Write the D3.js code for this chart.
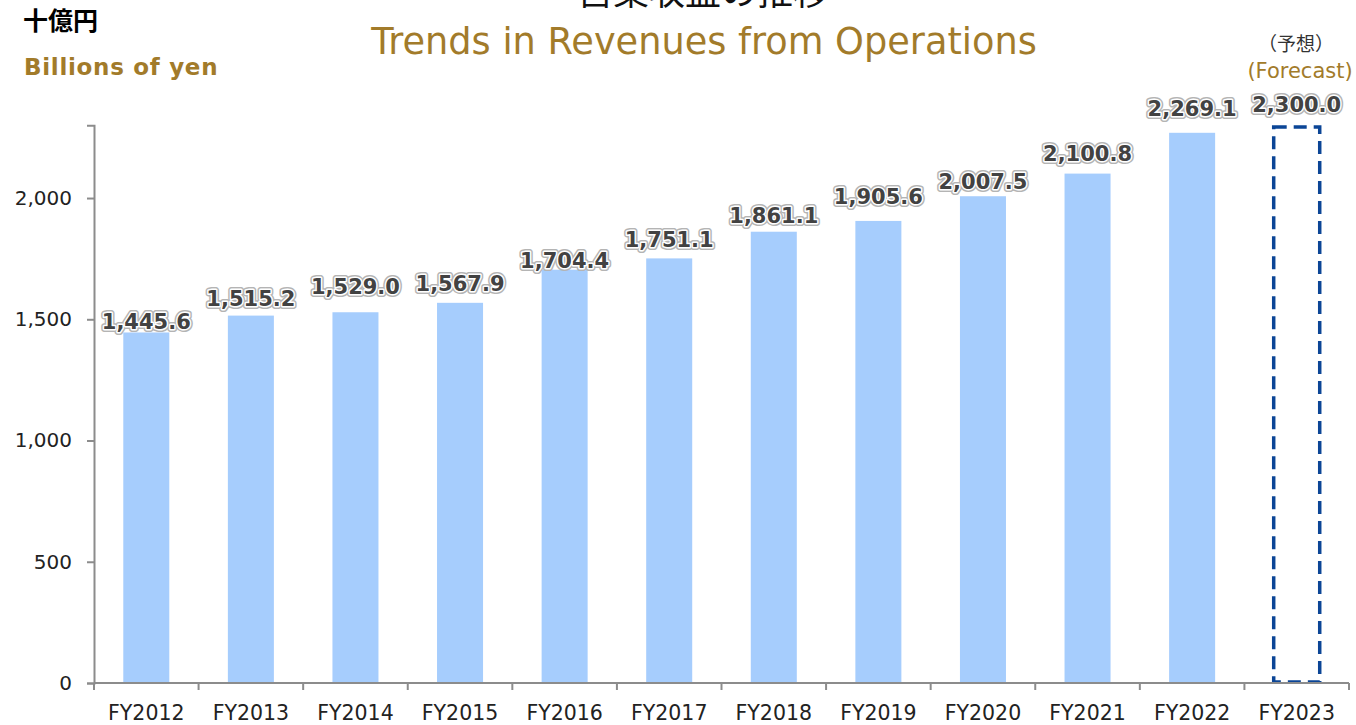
<!DOCTYPE html>
<html>
<head>
<meta charset="utf-8">
<script src="https://cdn.jsdelivr.net/npm/d3@7"></script>
<style>
  body { margin: 0; background: #fff; }
  svg { display: block; font-family: "DejaVu Sans", Verdana, sans-serif; }
</style>
</head>
<body>
<div id="chart"></div>
<script>
const years = ["FY2012", "FY2013", "FY2014", "FY2015", "FY2016", "FY2017",
               "FY2018", "FY2019", "FY2020", "FY2021", "FY2022", "FY2023"]
const revenues = [1445.6, 1515.2, 1529.0, 1567.9, 1704.4, 1751.1,
                  1861.1, 1905.6, 2007.5, 2100.8, 2269.1, 2300.0]
const forecast = [false, false, false, false, false, false,
                  false, false, false, false, false, true]
const yTicks = [0, 500, 1000, 1500, 2000]

// layout: how far each value label sits above its bar (px), as placed in the original
const labelLift = [3, 10, 18, 12, 2, 11, 9, 17, 7, 13, 17, 13]

const W = 1356, H = 725
const gold = "#a27b2a"

const svg = d3.select("#chart").append("svg")
  .attr("width", W)
  .attr("height", H)

const data = years.map((y, i) => ({ year: y, value: revenues[i], forecast: forecast[i], lift: labelLift[i] }))

// scales
const xScale = d3.scaleBand(years, [94, 1349])
  .paddingInner(0.56)
  .paddingOuter(0.28)
const yScale = d3.scaleLinear([0, 2300], [683, 125.3])

// titles
svg.append("text")
   .attr("x", 703).attr("y", 5)
   .attr("text-anchor", "middle")
   .style("font-family", "'Noto Sans CJK JP'")
   .style("font-size", "36px")
   .attr("fill", "#111")
   .text("営業収益の推移")

svg.append("text")
   .attr("x", 704).attr("y", 54)
   .attr("text-anchor", "middle")
   .style("font-size", "36.7px")
   .attr("fill", gold)
   .text("Trends in Revenues from Operations")

svg.append("text")
   .attr("x", 23).attr("y", 30)
   .style("font-family", "'Noto Sans CJK JP'")
   .style("font-size", "25px")
   .style("font-weight", "bold")
   .attr("fill", "#000")
   .text("十億円")

svg.append("text")
   .attr("x", 24).attr("y", 75)
   .style("font-size", "23px")
   .style("font-weight", "bold")
   .style("letter-spacing", "0.7px")
   .attr("fill", gold)
   .text("Billions of yen")

svg.append("text")
   .attr("x", 1296).attr("y", 51)
   .attr("text-anchor", "middle")
   .style("font-family", "'Noto Sans CJK JP'")
   .style("font-size", "19px")
   .attr("fill", "#333")
   .text("（予想）")

svg.append("text")
   .attr("x", 1300).attr("y", 78)
   .attr("text-anchor", "middle")
   .style("font-size", "21px")
   .attr("fill", gold)
   .text("(Forecast)")

// bars
svg.selectAll("rect.bar")
   .data(data.filter(d => !d.forecast))
   .enter()
   .append("rect")
   .attr("class", "bar")
   .attr("x", d => xScale(d.year))
   .attr("y", d => yScale(d.value))
   .attr("width", xScale.bandwidth())
   .attr("height", d => yScale(0) - yScale(d.value))
   .attr("fill", "#a6cdfd")

svg.selectAll("rect.fc")
   .data(data.filter(d => d.forecast))
   .enter()
   .append("rect")
   .attr("class", "fc")
   .attr("x", d => xScale(d.year))
   .attr("y", d => yScale(d.value) + 1.6)
   .attr("width", xScale.bandwidth())
   .attr("height", d => yScale(0) - yScale(d.value) - 2.6)
   .attr("fill", "none")
   .attr("stroke", "#0b4596")
   .attr("stroke-width", 3.5)
   .attr("stroke-dasharray", "13,7")

// axes
const xAxis = svg.append("g")
   .attr("transform", `translate(0, ${yScale(0)})`)
xAxis.append("line")
   .attr("x1", 94).attr("x2", 1349)
   .attr("stroke", "#8c8c8c").attr("stroke-width", 2)
xAxis.selectAll("line.tick")
   .data(d3.range(years.length + 1))
   .enter()
   .append("line")
   .attr("class", "tick")
   .attr("x1", i => 94 + i * xScale.step())
   .attr("x2", i => 94 + i * xScale.step())
   .attr("y1", 0).attr("y2", 7)
   .attr("stroke", "#8c8c8c").attr("stroke-width", 2)
xAxis.selectAll("text")
   .data(years)
   .enter()
   .append("text")
   .attr("x", d => xScale(d) + xScale.bandwidth() / 2)
   .attr("y", 36.5)
   .attr("text-anchor", "middle")
   .style("font-size", "20.5px")
   .attr("fill", "#222")
   .text(d => d)

const yAxisFunction = d3.axisLeft(yScale)
   .tickValues(yTicks)
   .tickSize(7)
   .tickPadding(15)
   .tickFormat(d3.format(","))
const yAxis = svg.append("g")
   .attr("transform", "translate(94, 0)")
   .call(yAxisFunction)
yAxis.select(".domain").attr("stroke", "#8c8c8c").attr("stroke-width", 2)
yAxis.selectAll(".tick line").attr("stroke", "#8c8c8c").attr("stroke-width", 2)
yAxis.selectAll(".tick text")
   .style("font-size", "20px")
   .style("font-family", "'DejaVu Sans', Verdana, sans-serif")
   .attr("fill", "#222")

// value labels (grey glow, white rim, dark fill)
const fmt = d3.format(",.1f")
const labels = svg.append("g")
for (const layer of [
  { stroke: "#b4b4b4", width: 6 },
  { stroke: "#ffffff", width: 3 },
  { stroke: "none", width: 0 }]) {
  labels.selectAll(null)
     .data(data)
     .enter()
     .append("text")
     .attr("x", d => xScale(d.year) + xScale.bandwidth() / 2)
     .attr("y", d => yScale(d.value) - d.lift)
     .attr("text-anchor", "middle")
     .style("font-size", "21px")
     .style("font-weight", "bold")
     .attr("fill", "#424242")
     .attr("stroke", layer.stroke)
     .attr("stroke-width", layer.width)
     .attr("stroke-linejoin", "round")
     .text(d => fmt(d.value))
}
</script>
</body>
</html>
